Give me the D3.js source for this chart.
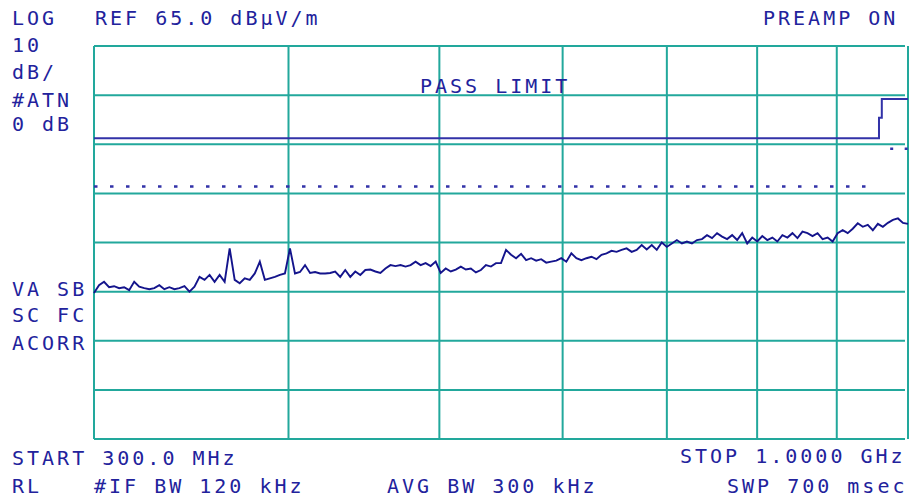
<!DOCTYPE html>
<html>
<head>
<meta charset="utf-8">
<script src="https://cdn.jsdelivr.net/npm/d3@7"></script>
<style>
  html, body { margin: 0; padding: 0; background: #fff; }
  svg text { font-family: "DejaVu Sans Mono", monospace; font-size: 20px; letter-spacing: 3px; fill: #22229c; }
</style>
</head>
<body>
<svg id="chart" width="909" height="499"></svg>
<script>
// frequency grid (MHz), log display
const START_MHZ = 300;
const STOP_MHZ = 1000;
const freqTicks = [300, 400, 500, 600, 700, 800, 900, 1000];
// amplitude grid, REF 65 dBuV/m, 10 dB/div
const REF_LEVEL = 65;
const levelTicks = [-15, -5, 5, 15, 25, 35, 45, 55, 65];

// limit line (dBuV/m) vs frequency
const limitFreq = [300, 958, 958, 962, 962, 1000];
const limitLevel = [46.2, 46.2, 50.4, 50.4, 54.2, 54.2];
// dotted margin line
const marginFreq = [300, 955];
const marginLevel = [36.4, 36.4];
const marginFreq2 = [974, 1000];
const marginLevel2 = [44.1, 44.1];

// measured trace, one value per sweep bin (dBuV/m)
const traceLevel = [
  14.7, 16.3, 17.0, 15.9, 16.1, 15.7, 15.9, 15.3, 17.0, 16.0,
  15.7, 15.5, 15.7, 16.3, 15.5, 15.9, 15.5, 15.7, 16.1, 15.0,
  16.0, 18.0, 17.4, 18.4, 17.0, 18.4, 17.0, 23.8, 17.4, 16.7,
  17.7, 17.4, 18.7, 21.1, 17.4, 17.7, 18.0, 18.4, 18.7, 23.8,
  18.7, 19.0, 20.4, 18.8, 19.0, 18.7, 18.7, 18.8, 19.1, 18.0,
  19.4, 18.0, 19.1, 18.4, 19.4, 19.5, 19.1, 18.8, 19.7, 20.4,
  20.2, 20.4, 20.1, 20.4, 21.1, 20.4, 20.8, 20.2, 21.1, 18.8,
  19.7, 19.1, 19.5, 20.1, 19.5, 19.7, 18.9, 19.4, 20.4, 20.1,
  20.8, 20.8, 23.5, 22.5, 21.8, 22.7, 21.4, 21.8, 21.3, 21.6,
  20.9, 21.1, 21.3, 21.8, 21.1, 22.8, 21.8, 21.4, 21.8, 22.1,
  21.6, 22.5, 22.8, 23.3, 23.1, 23.5, 23.8, 23.1, 23.5, 24.5,
  23.6, 24.5, 23.5, 25.0, 24.1, 24.8, 25.5, 24.8, 25.2, 24.8,
  25.5, 25.7, 26.5, 25.9, 26.9, 26.2, 25.7, 26.5, 25.5, 26.9,
  24.8, 26.0, 25.2, 26.3, 25.5, 26.0, 25.2, 26.5, 26.0, 26.9,
  25.9, 27.2, 26.9, 26.3, 26.9, 25.7, 26.0, 25.2, 26.9, 27.5,
  26.9, 27.8, 28.9, 28.2, 28.6, 27.5, 28.8, 28.2, 29.0, 29.6,
  29.9, 29.0, 28.8
];

const svg = d3.select("#chart");

const x = d3.scaleLog().domain([START_MHZ, STOP_MHZ]).range([94, 908]);
const y = d3.scaleLinear().domain([-15, REF_LEVEL]).range([439, 46]);

const GRID = "#22a89c";
const LIMIT = "#3232a8";

// grid
svg.append("g")
  .selectAll("line")
  .data(freqTicks)
  .join("line")
  .attr("x1", d => x(d)).attr("x2", d => x(d))
  .attr("y1", y(REF_LEVEL)).attr("y2", y(-15))
  .attr("stroke", GRID).attr("stroke-width", 2);

svg.append("g")
  .selectAll("line")
  .data(levelTicks)
  .join("line")
  .attr("x1", x(START_MHZ)).attr("x2", x(STOP_MHZ) - 3)
  .attr("y1", d => y(d)).attr("y2", d => y(d))
  .attr("stroke", GRID).attr("stroke-width", 2);

// limit + margin lines
const pts = (fs, ls) => fs.map((f, i) => [x(f), y(ls[i])]);
svg.append("path")
  .attr("d", d3.line()(pts(limitFreq, limitLevel)))
  .attr("fill", "none").attr("stroke", LIMIT).attr("stroke-width", 2);

[[marginFreq, marginLevel, "3.5,12.5"], [marginFreq2, marginLevel2, "3,11.5"]].forEach(([fs, ls, dash]) => {
  svg.append("path")
    .attr("d", d3.line()(pts(fs, ls)))
    .attr("fill", "none").attr("stroke", LIMIT).attr("stroke-width", 2.5)
    .attr("stroke-dasharray", dash);
});

// trace: bins spread evenly over the log sweep
const n = traceLevel.length;
const binFreq = (i) => START_MHZ * Math.pow(STOP_MHZ / START_MHZ, i / (n - 1));
svg.append("path")
  .attr("d", d3.line()
    .x((d, i) => x(binFreq(i)))
    .y(d => y(d))(traceLevel))
  .attr("fill", "none").attr("stroke", "#14148c").attr("stroke-width", 1.9)
  .attr("stroke-linejoin", "miter");

// annotation text
const labels = [
  { t: "LOG", x: 12, y: 25 },
  { t: "REF 65.0 dBµV/m", x: 95, y: 25 },
  { t: "PREAMP ON", x: 763, y: 25 },
  { t: "10", x: 12, y: 52 },
  { t: "dB/", x: 12, y: 79 },
  { t: "#ATN", x: 12, y: 107 },
  { t: "0 dB", x: 12, y: 131 },
  { t: "PASS LIMIT", x: 420, y: 93 },
  { t: "VA SB", x: 12, y: 296 },
  { t: "SC FC", x: 12, y: 322 },
  { t: "ACORR", x: 12, y: 350 },
  { t: "START 300.0 MHz", x: 12, y: 465 },
  { t: "STOP 1.0000 GHz", x: 680, y: 463 },
  { t: "RL", x: 12, y: 493 },
  { t: "#IF BW 120 kHz", x: 94, y: 493 },
  { t: "AVG BW 300 kHz", x: 387, y: 493 },
  { t: "SWP 700 msec", x: 727, y: 493 }
];
svg.append("g")
  .selectAll("text")
  .data(labels)
  .join("text")
  .attr("x", d => d.x)
  .attr("y", d => d.y)
  .text(d => d.t);
</script>
</body>
</html>
